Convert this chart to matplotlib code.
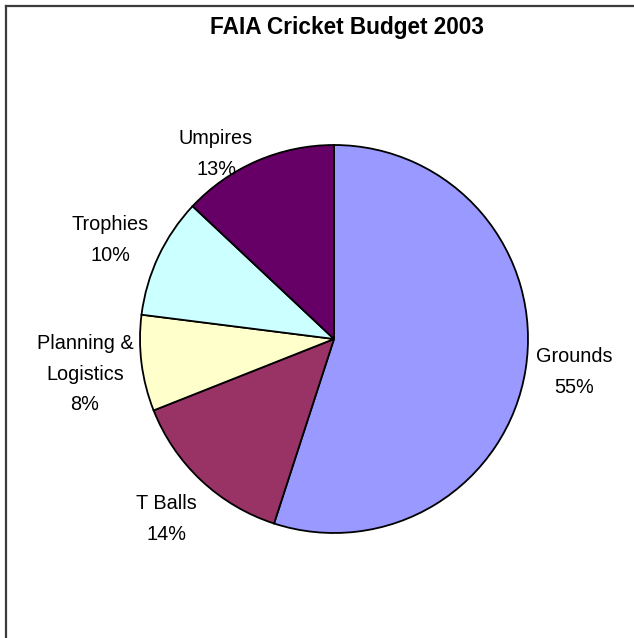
import matplotlib
matplotlib.use("Agg")
import matplotlib.pyplot as plt
from matplotlib.lines import Line2D

categories = ["Grounds", "T Balls", "Planning &\nLogistics", "Trophies", "Umpires"]
values = [55, 14, 8, 10, 13]
colors = ["#9999FF", "#993366", "#FFFFCC", "#CCFFFF", "#660066"]
title = "FAIA Cricket Budget 2003"

W, H = 634, 638
fig = plt.figure(figsize=(W / 100, H / 100), dpi=100)
plt.rcParams['font.family'] = ['Liberation Sans', 'DejaVu Sans']
ax = fig.add_axes([0, 0, 1, 1])

cx, cy, r = 334, H - 339, 194
wedges, _ = ax.pie(values, colors=colors, startangle=90, counterclock=False,
                   center=(cx, cy), radius=r, frame=True,
                   wedgeprops=dict(edgecolor="black", linewidth=1.3))
ax.set_aspect('auto')
ax.set_xlim(0, W)
ax.set_ylim(0, H)
ax.axis('off')

# label positions (pixel coords, top-left origin)
label_pos = [(574, 372), (166, 519), (85, 374), (110, 240), (216, 154)]
total = sum(values)
for cat, v, (lx, ly) in zip(categories, values, label_pos):
    ax.text(lx, H - ly, f"{cat}\n{round(100 * v / total)}%", ha="center", va="center",
            fontsize=14.3, linespacing=1.74, color="black")

fig.text(347.5 / W, 1 - 34 / H, title, ha="center", va="baseline",
         fontsize=16.3, fontweight="bold")

# frame (top & left edges visible)
fig.add_artist(Line2D([6 / W, 1], [1 - 6 / H, 1 - 6 / H], transform=fig.transFigure,
                      color="#3c3c3c", linewidth=1.6))
fig.add_artist(Line2D([6 / W, 6 / W], [0, 1 - 6 / H], transform=fig.transFigure,
                      color="#3c3c3c", linewidth=1.6))

fig.savefig("out.png", dpi=100)
